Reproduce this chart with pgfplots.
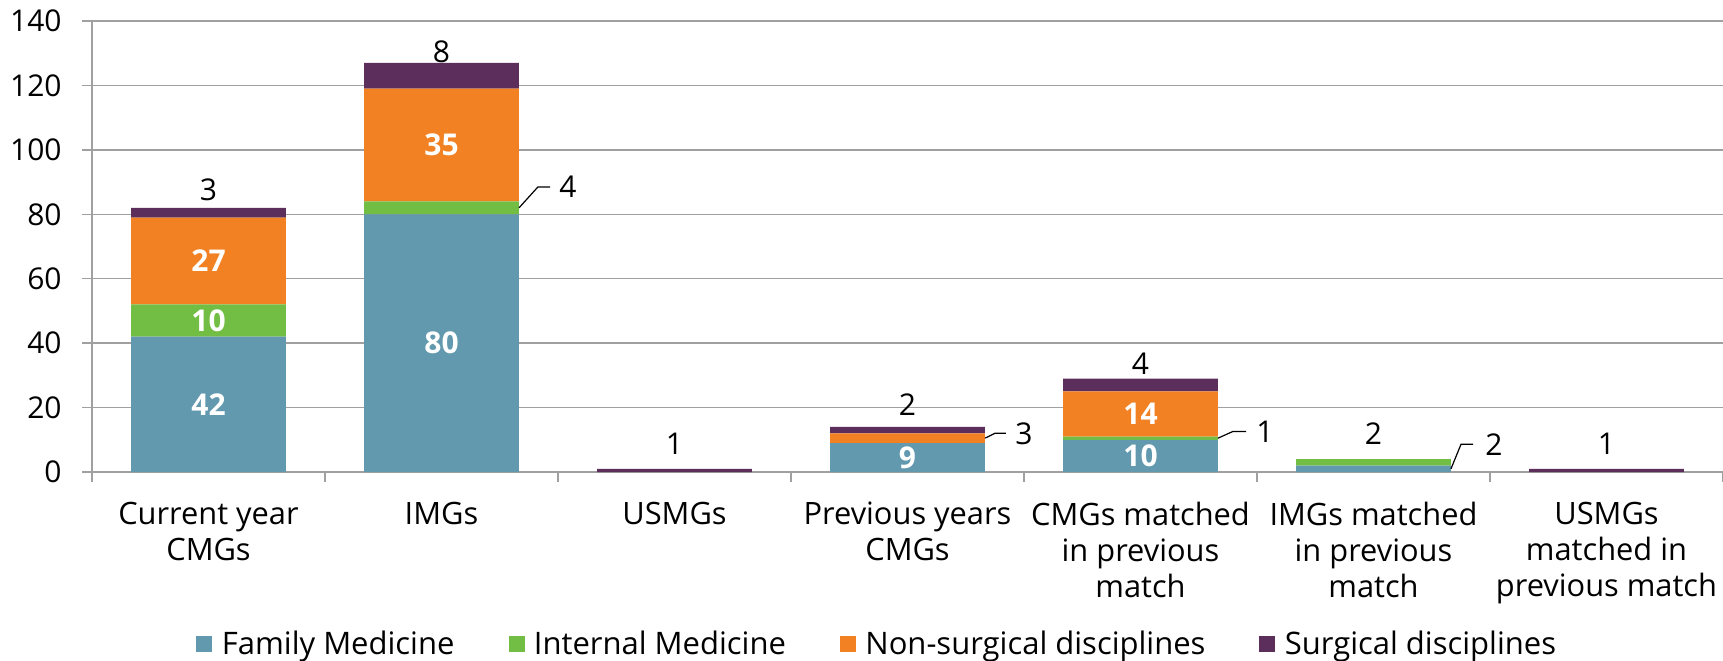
\documentclass[border=0pt]{standalone}
\usepackage{fontspec}
\setmainfont{Open Sans}
\usepackage{pgfplots}
\usepackage{pgfplotstable}
\pgfplotsset{compat=1.18}
\definecolor{fm}{HTML}{6299AE}
\definecolor{im}{HTML}{72BE44}
\definecolor{ns}{HTML}{F28124}
\definecolor{sg}{HTML}{5C2E5C}
\definecolor{gridgray}{HTML}{A0A0A0}
\pgfplotstableread{
x fm im ns s
0 42 10 27 3
1 80 4 35 8
2 0 0 0 1
3 9 0 3 2
4 10 1 14 4
5 2 2 0 0
6 0 0 0 1
}\datatable
\tikzset{
  wl/.style={text=white, inner sep=0pt, font=\fontsize{15}{18}\selectfont\bfseries},
  bl/.style={text=black, inner sep=0pt, font=\fontsize{15}{18}\selectfont},
  co/.style={draw=black, line width=0.6pt}
}
\begin{document}
\begin{tikzpicture}[font=\fontsize{15}{18}\selectfont]
\useasboundingbox (-46pt,-94pt) rectangle (815.5pt,236pt);
\begin{axis}[
  scale only axis, width=815.5pt, height=225.5pt,
  ybar stacked, bar width=0.665,
  xmin=-0.5, xmax=6.5, ymin=0, ymax=140,
  ytick={0,20,...,140},
  yticklabels={0,20,40,60,80,100,120,140},
  axis x line*=bottom, axis y line*=left,
  axis line style={draw=gridgray, line width=0.75pt},
  ymajorgrids, grid style={draw=gridgray, line width=0.75pt},
  tick align=outside, major tick length=5pt,
  tick style={draw=gridgray, line width=0.75pt},
  xtick={0,...,6},
  xticklabels={{Current year\\CMGs},{IMGs},{USMGs},{Previous years\\CMGs},{CMGs matched\\in previous\\match},{IMGs matched\\in previous\\match},{USMGs\\matched in\\previous match}},
  xtick style={draw=none},
  extra x ticks={-0.5,0.5,1.5,2.5,3.5,4.5,5.5,6.5},
  extra x tick labels={{},{},{},{},{},{},{},{}},
  extra x tick style={xtick style={draw=gridgray, line width=0.75pt}, grid=none},
  xticklabel style={align=center, anchor=north, inner sep=0pt, font=\fontsize{15.4}{18}\selectfont, yshift=-9.8pt},
  yticklabel style={anchor=east, inner sep=0pt, font=\fontsize{15}{18}\selectfont, xshift=-10pt},
  legend columns=4,
  legend style={draw=none, fill=none, inner sep=0pt, at={(0.0638,-0.381)}, anchor=west,
    font=\fontsize{15.5}{18}\selectfont,
    /tikz/every odd column/.append style={column sep=2.7pt},
    /tikz/every even column/.append style={column sep=25pt}},
  legend image code/.code={\fill[#1] (0pt,-4pt) rectangle (8pt,4pt);},
]
\addplot[fill=fm, draw=none] table[x=x, y=fm] {\datatable};
\addplot[fill=im, draw=none] table[x=x, y=im] {\datatable};
\addplot[fill=ns, draw=none] table[x=x, y=ns] {\datatable};
\addplot[fill=sg, draw=none] table[x=x, y=s] {\datatable};
\legend{Family Medicine, Internal Medicine, Non-surgical disciplines, Surgical disciplines}
\coordinate (w1) at (axis cs:0,21);
\coordinate (w2) at (axis cs:0,47);
\coordinate (w3) at (axis cs:0,65.5);
\coordinate (w4) at (axis cs:1,40);
\coordinate (w5) at (axis cs:1,101.5);
\coordinate (w6) at (axis cs:3,4.5);
\coordinate (w7) at (axis cs:4,5);
\coordinate (w8) at (axis cs:4,18);
\coordinate (b1) at (axis cs:0,87.7);
\coordinate (b2) at (axis cs:1,130.4);
\coordinate (b3) at (axis cs:2,8.8);
\coordinate (b4) at (axis cs:3,20.8);
\coordinate (b5) at (axis cs:4,33.5);
\coordinate (b6) at (axis cs:5,11.8);
\coordinate (b7) at (axis cs:6,8.7);
\coordinate (c1a) at (axis cs:1.3326,82);
\coordinate (c1b) at (axis cs:1.414,88.5);
\coordinate (c1c) at (axis cs:1.4657,88.5);
\coordinate (c1t) at (axis cs:1.504,88.5);
\coordinate (c2a) at (axis cs:3.3326,10.5);
\coordinate (c2b) at (axis cs:3.375,12);
\coordinate (c2c) at (axis cs:3.4227,12);
\coordinate (c2t) at (axis cs:3.461,12);
\coordinate (c3a) at (axis cs:4.3326,10.5);
\coordinate (c3b) at (axis cs:4.397,12.6);
\coordinate (c3c) at (axis cs:4.4528,12.6);
\coordinate (c3t) at (axis cs:4.4957,12.5);
\coordinate (c4a) at (axis cs:5.3326,1);
\coordinate (c4b) at (axis cs:5.3755,8.6);
\coordinate (c4c) at (axis cs:5.427,8.6);
\coordinate (c4t) at (axis cs:5.4785,8.4);
\end{axis}
\node[wl] at (w1) {42};
\node[wl] at (w2) {10};
\node[wl] at (w3) {27};
\node[wl] at (w4) {80};
\node[wl] at (w5) {35};
\node[wl] at (w6) {9};
\node[wl] at (w7) {10};
\node[wl] at (w8) {14};
\node[bl] at (b1) {3};
\node[bl] at (b2) {8};
\node[bl] at (b3) {1};
\node[bl] at (b4) {2};
\node[bl] at (b5) {4};
\node[bl] at (b6) {2};
\node[bl] at (b7) {1};
\draw[co] (c1a) -- (c1b) -- (c1c);
\node[bl, anchor=west] at (c1t) {4};
\draw[co] (c2a) -- (c2b) -- (c2c);
\node[bl, anchor=west] at (c2t) {3};
\draw[co] (c3a) -- (c3b) -- (c3c);
\node[bl, anchor=west] at (c3t) {1};
\draw[co] (c4a) -- (c4b) -- (c4c);
\node[bl, anchor=west] at (c4t) {2};
\end{tikzpicture}
\end{document}
